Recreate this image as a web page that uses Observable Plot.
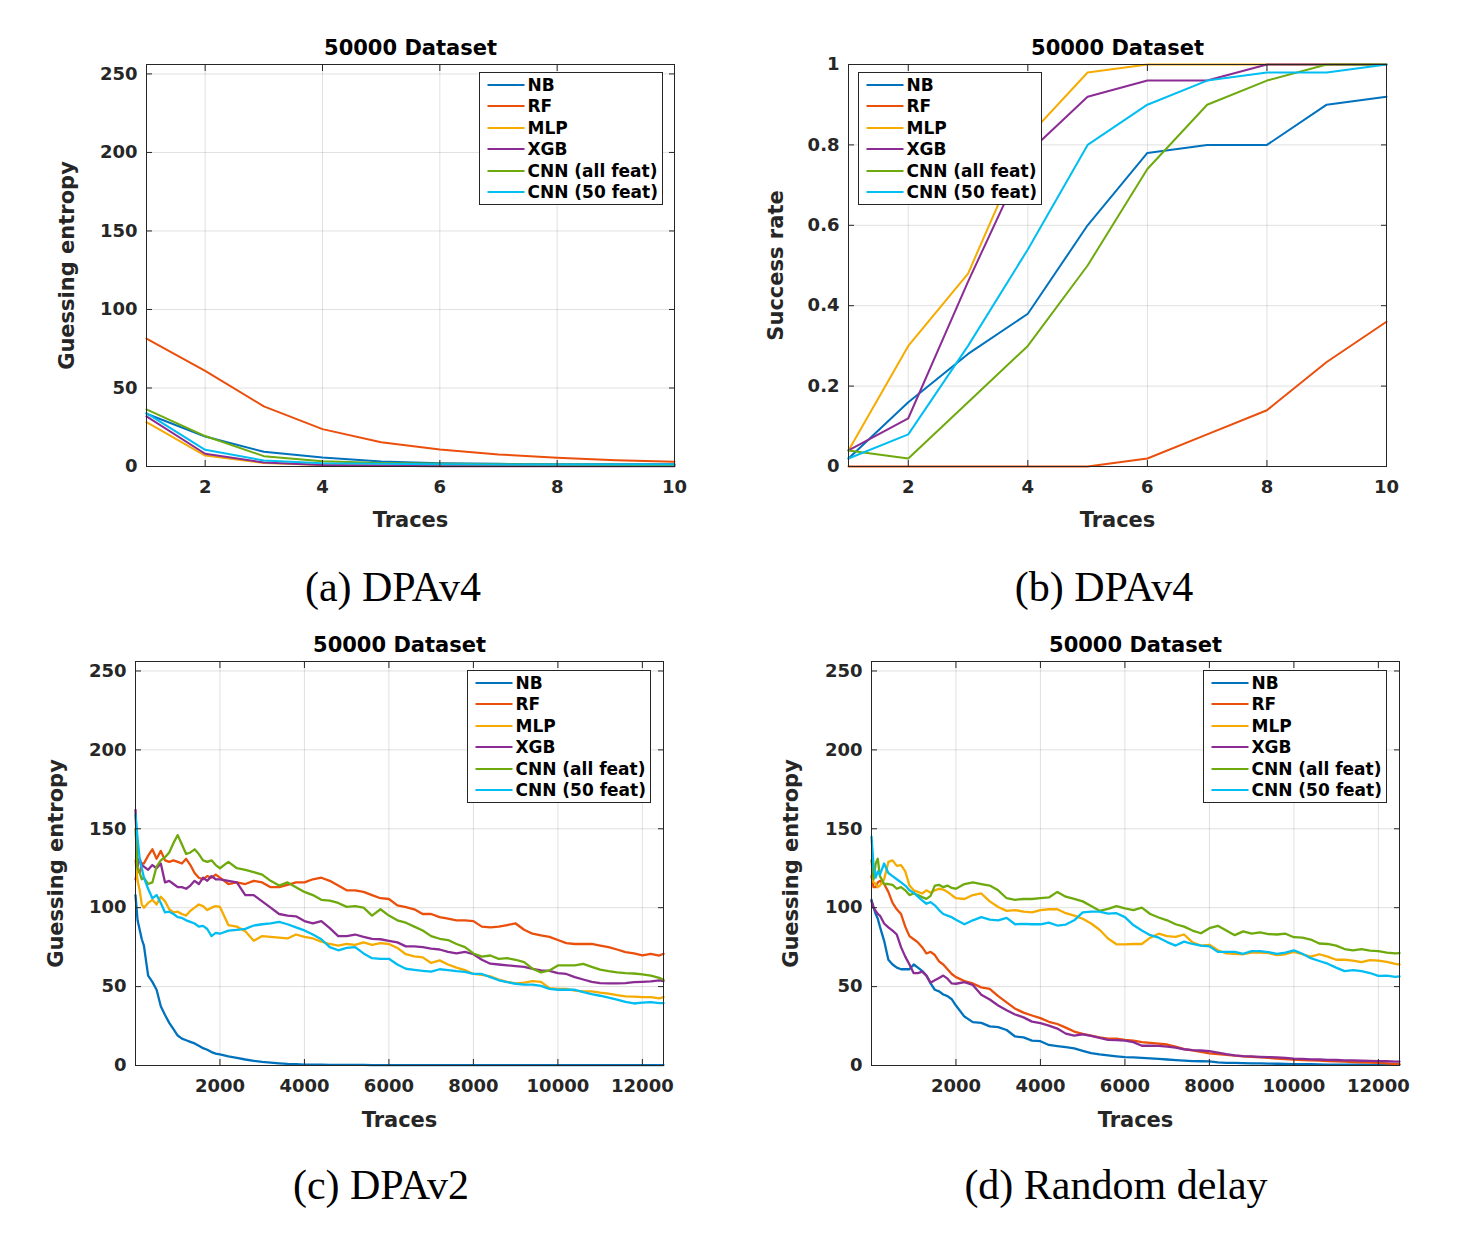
<!DOCTYPE html>
<html>
<head>
<meta charset="utf-8">
<script src="https://cdn.jsdelivr.net/npm/d3@7"></script>
<script src="https://cdn.jsdelivr.net/npm/@observablehq/plot@0.6"></script>
<style>
  html, body { margin: 0; padding: 0; background: #ffffff; }
  #root { position: relative; width: 1460px; height: 1242px; background: #ffffff; overflow: hidden; }
  .legend { position: absolute; background: #ffffff; border: 1px solid #262626; box-sizing: border-box;
            font-family: "DejaVu Sans", sans-serif; font-weight: bold; font-size: 17px; color: #000; }
  .lrow { position: absolute; left: 6.5px; height: 20px; line-height: 20px; white-space: nowrap; display: flex; align-items: center; }
  .lrow svg { display: block; }
  .lrow span { margin-left: 3px; }
</style>
</head>
<body>
<div id="root"></div>
<script>
// ---------- categories & styling ----------
const methods = ["NB", "RF", "MLP", "XGB", "CNN (all feat)", "CNN (50 feat)"];
const colors = ["#0072BD", "#EA4F0C", "#F5AB00", "#8B2C94", "#6EAA0D", "#00BDF2"];
const panelTitle = "50000 Dataset";
const captions = ["(a) DPAv4", "(b) DPAv4", "(c) DPAv2", "(d) Random delay"];
const xLabel = "Traces";
const yLabelGE = "Guessing entropy";
const yLabelSR = "Success rate";

// ---------- tick values ----------
const xTicksSmall = [2, 4, 6, 8, 10];
const xTicksLarge = [2000, 4000, 6000, 8000, 10000, 12000];
const yTicksGE = [0, 50, 100, 150, 200, 250];
const yTicksSR = [0, 0.2, 0.4, 0.6, 0.8, 1];

// ---------- (a) DPAv4 guessing entropy ----------
const tracesA = [1, 2, 3, 4, 5, 6, 7, 8, 9, 10];
const geA_NB  = [33.6, 19.1, 9.4, 5.7, 3.2, 2.1, 1.7, 1.5, 1.5, 1.5];
const geA_RF  = [81.5, 60.9, 38.3, 23.8, 15.5, 10.9, 7.7, 5.5, 4.0, 3.0];
const geA_MLP = [28.3, 7.0, 2.3, 1.0, 0.8, 0.7, 0.7, 0.6, 0.6, 0.6];
const geA_XGB = [31.9, 8.1, 2.6, 0.9, 0.4, 0.2, 0.2, 0.2, 0.2, 0.2];
const geA_CNNall = [36.4, 19.4, 6.6, 3.4, 2.3, 1.7, 1.4, 1.2, 1.1, 1.0];
const geA_CNN50  = [34.0, 10.6, 3.8, 2.1, 1.7, 1.5, 1.3, 1.2, 1.2, 1.2];

// ---------- (b) DPAv4 success rate ----------
const srB_NB  = [0.02, 0.16, 0.28, 0.38, 0.60, 0.78, 0.80, 0.80, 0.90, 0.92];
const srB_RF  = [0, 0, 0, 0, 0, 0.02, 0.08, 0.14, 0.26, 0.36];
const srB_MLP = [0.04, 0.30, 0.48, 0.82, 0.98, 1, 1, 1, 1, 1];
const srB_XGB = [0.04, 0.12, 0.46, 0.78, 0.92, 0.96, 0.96, 1, 1, 1];
const srB_CNNall = [0.04, 0.02, 0.16, 0.30, 0.50, 0.74, 0.90, 0.96, 1, 1];
const srB_CNN50  = [0.02, 0.08, 0.30, 0.54, 0.80, 0.90, 0.96, 0.98, 0.98, 1];

// ---------- (c),(d) trace positions ----------
const tracesCD = [1, 50, 100, 150, 200, 300, 400, 500, 600, 700, 800, 900, 1000, 1100, 1200, 1300, 1400, 1500, 1600, 1700, 1800, 1900, 2000,
  2200, 2400, 2600, 2800, 3000, 3200, 3400, 3600, 3800, 4000, 4200, 4400, 4600, 4800, 5000, 5200, 5400, 5600, 5800, 6000, 6200,
  6400, 6600, 6800, 7000, 7200, 7400, 7600, 7800, 8000, 8200, 8400, 8600, 8800, 9000, 9200, 9400, 9600, 9800, 10000, 10200,
  10400, 10600, 10800, 11000, 11200, 11400, 11600, 11800, 12000, 12200, 12400, 12500];

// ---------- (c) DPAv2 guessing entropy ----------
const geC_NB = [108, 92, 86, 80, 76, 57, 53, 48, 37.5, 32, 27, 23, 19, 17, 16, 15, 14, 12.5, 11, 10, 8.5, 7.5, 7,
  5.8, 4.8, 3.8, 3.0, 2.3, 1.8, 1.4, 1.0, 0.8, 0.6, 0.5, 0.5, 0.4, 0.4, 0.4, 0.4, 0.4, 0.3, 0.3, 0.3, 0.3,
  0.3, 0.3, 0.3, 0.3, 0.3, 0.3, 0.3, 0.3, 0.3, 0.3, 0.3, 0.3, 0.3, 0.3, 0.3, 0.3, 0.3, 0.3, 0.3, 0.3,
  0.3, 0.3, 0.3, 0.3, 0.3, 0.3, 0.3, 0.3, 0.3, 0.3, 0.3, 0.3];
const geC_RF = [118, 124, 122, 128, 128, 133, 137, 131, 136, 130, 129, 130, 129, 128, 131, 127, 122, 119, 118, 120, 119, 121, 119,
  115, 116, 115, 117, 116, 113, 113, 114.5, 116, 116, 118, 119, 117, 114, 111, 111, 110, 108, 106, 105.5, 101.5,
  100.4, 99, 96, 96, 94, 93, 92, 92, 91.5, 88, 87.5, 88, 89, 90, 86, 83.5, 82.4, 81.5, 79.5, 77.5,
  77, 77, 77, 76, 75, 73.5, 71.8, 71, 69.8, 70.8, 69.7, 70.8];
const geC_MLP = [130, 117, 111, 102, 100, 103, 105, 102, 107, 104, 99, 97, 97.5, 96, 95, 98, 100, 102, 101, 98.5, 100, 101, 100.5,
  89, 88, 85, 79, 82, 81.5, 81, 80.5, 83, 81.5, 80.5, 78.5, 77, 76, 77, 76.5, 78, 76.5, 77.5, 77, 74.5,
  70.5, 69.2, 68.5, 65, 66.6, 64, 62, 60.5, 58, 57.5, 56.5, 54.5, 53, 52, 52.5, 53.5, 53, 49, 48.6, 48.6,
  47.4, 47, 47, 46.2, 45.6, 44.6, 43.8, 43.7, 43.3, 43.3, 42.5, 43.3];
const geC_XGB = [162, 126, 131, 127, 126, 124, 127, 125, 128, 116, 117, 115, 113, 113, 112, 114, 117, 115, 119, 117, 120, 118, 118,
  117, 116, 108, 108, 104, 100, 96, 95, 94.5, 91.5, 90, 91.5, 87, 82, 82, 83, 81.5, 80.3, 80, 79, 78,
  75.5, 75.5, 75, 74, 73.5, 72, 71, 72, 70.5, 67, 64.5, 64, 63.5, 63, 62.5, 61.3, 60.2, 60, 58.5, 58,
  56, 54.5, 53, 52.2, 52, 52, 52.2, 52.8, 53, 53.3, 53.9, 53.5];
const geC_CNNall = [150, 125, 122, 118, 119, 115, 116, 126, 130, 132, 135, 141, 146, 140, 134, 135, 137, 134, 130, 129, 130, 127, 125,
  129, 125, 124, 122.5, 121, 117, 114, 116, 113, 110, 108, 105, 104.5, 103, 100.5, 101, 100, 95, 99, 95, 92,
  90.5, 88, 85.5, 82, 80.3, 79.5, 77, 75, 71, 69, 69.7, 67.6, 68, 67, 65.5, 61.3, 59, 60.2, 63.4, 63.4,
  63.4, 64.4, 62.5, 60.8, 59.8, 59, 58.5, 58.3, 57.7, 57, 55.5, 54.3];
const geC_CNN50 = [159, 144, 131, 125, 119, 112, 106, 108, 103, 97, 97.5, 96, 94, 93.5, 92, 91, 90, 88, 88.5, 86.5, 82, 84, 83.5,
  85.5, 86, 86.6, 88.7, 89.5, 90, 91, 89.5, 87.5, 85.6, 83, 80, 75, 73, 74.5, 75, 71, 68, 67.6, 67.6, 64,
  61.3, 60.6, 60, 59.5, 61, 60.5, 59.8, 59.3, 58.1, 58, 56, 54, 52.8, 51.8, 51.3, 51.3, 50.5, 48.6, 48, 48,
  48, 46.5, 45.2, 44.2, 43, 41.8, 40.3, 39.3, 39.8, 40.1, 39.5, 39.5];

// ---------- (d) Random delay guessing entropy ----------
const geD_NB = [105, 100, 96, 93, 88, 79, 67, 64, 62, 61, 61, 61, 64, 62, 60, 57, 52, 48, 47, 45, 44, 42, 38,
  31, 27.5, 27, 24.8, 24.3, 22.5, 18.4, 17.8, 15.8, 15.4, 13, 12.3, 11.6, 10.8, 9.3, 7.8, 7, 6.4, 5.8, 5.3, 5.2,
  4.8, 4.5, 4.2, 3.8, 3.4, 3.1, 2.8, 2.7, 2.6, 2.0, 1.7, 1.6, 1.5, 1.4, 1.3, 1.2, 1.1, 1.0, 0.9, 0.8,
  0.8, 0.7, 0.6, 0.6, 0.5, 0.5, 0.5, 0.4, 0.4, 0.4, 0.4, 0.4];
const geD_RF = [120, 113, 113, 116, 117, 115, 110, 103, 99, 96, 88, 82, 80, 78, 75, 71, 72, 70, 66, 64, 61, 58, 56,
  53.5, 52, 49.5, 48.5, 44, 40, 36, 33.5, 31.7, 30, 27.7, 26.3, 24, 21.5, 20, 19, 17.8, 17, 17, 16.3, 15.8,
  14.8, 14.3, 13.9, 13.3, 12, 10.4, 9.6, 8.6, 7.7, 7.2, 6.8, 6.2, 5.8, 5.4, 5.1, 4.8, 4.4, 4.1, 3.8, 3.5,
  3.3, 3.1, 2.8, 2.6, 2.4, 2.2, 2.0, 1.8, 1.6, 1.3, 0.9, 0.8];
const geD_MLP = [120, 116, 115, 113, 114, 118, 129, 130, 126.5, 127, 123, 114, 111, 110, 109, 111, 109.5, 111, 112, 111.5, 110, 108, 106,
  105.5, 108, 109, 104, 100.4, 98, 98.5, 97.5, 97, 98.5, 99, 99, 96.5, 95, 93, 90, 86, 80.5, 76.8, 76.7, 77,
  77, 81, 83.5, 82, 81.5, 83, 78, 76, 76.5, 73, 71, 70.8, 70.5, 71.5, 71.6, 71.2, 70, 70.5, 72, 70.5,
  69, 70.5, 69, 67, 67, 66.5, 65.5, 66.8, 66.5, 65.7, 64.4, 64];
const geD_XGB = [104, 100, 98, 96, 95, 90, 87.5, 85.5, 83, 75, 69, 64, 58.5, 58.5, 59.5, 57, 52.5, 54, 55.5, 57, 55, 52, 51.8,
  52.8, 51, 44.8, 41.8, 38, 35, 32.3, 30.5, 27.8, 26.8, 25.3, 23.4, 20.2, 19, 19.8, 18.7, 17.5, 16.3, 16.1, 15.7, 14.8,
  12.5, 12.6, 12.4, 12, 11.3, 10.3, 9.8, 9.5, 9.1, 8.2, 7.2, 6.4, 6.0, 5.8, 5.5, 5.3, 5.1, 4.8, 4.4, 4.2,
  3.9, 3.8, 3.6, 3.5, 3.3, 3.2, 3.0, 2.9, 2.8, 2.7, 2.5, 2.5];
const geD_CNNall = [130, 118, 128, 131, 120, 115, 115, 114.5, 112, 113, 111, 108, 109, 108, 106.7, 105.6, 107.5, 114, 114.5, 113, 114, 112.5, 112,
  115, 116, 115, 114, 111, 106, 105, 105.5, 105.5, 106, 106.5, 110, 107, 105.6, 104, 101, 98, 99.3, 101, 99.5, 98.5,
  100, 96, 93.8, 92, 89.5, 88, 85.5, 83.8, 87, 88.5, 85.5, 82.6, 85, 83.5, 84.3, 83.3, 83, 83.5, 81.3, 81,
  79.8, 77.3, 77, 76, 73.8, 73, 73.8, 72.8, 72.5, 71.5, 71, 71.2];
const geD_CNN50 = [145, 126, 119, 123, 121, 128, 122, 120, 118, 116, 114, 111, 109.5, 107, 104.6, 102.5, 103.5, 101.5, 98.5, 96, 95, 94, 92.3,
  89.5, 92, 94, 92.5, 92, 93.5, 89.5, 89.8, 89.5, 89.5, 90.5, 88.7, 89.3, 92, 97, 97.5, 97.5, 96.2, 96.5, 94, 89,
  85.6, 82.6, 81, 78.2, 76, 78.5, 77, 76, 75.5, 72, 72, 72, 70.8, 72.5, 72.5, 71.8, 70.8, 71.5, 73, 70.8,
  68, 66.2, 64.5, 62, 59.8, 60.5, 59.8, 58.6, 56.8, 57, 56.2, 56.5];

// ---------- drawing ----------
const root = document.getElementById("root");
const M = {l: 110, r: 20, t: 40, b: 80};

function toRows(traces, seriesList) {
  const rows = [];
  seriesList.forEach((vals, i) => vals.forEach((v, j) => rows.push({t: traces[j], v, method: methods[i]})));
  return rows;
}

function panel(cfg) {
  const rows = toRows(cfg.traces, cfg.series);
  const grid = {stroke: "#000", strokeOpacity: 0.12, strokeWidth: 1};
  const tickStyle = {stroke: "#262626", fill: "#262626", fontSize: 18, fontWeight: "bold"};
  const lbl = {fontSize: 21, fontWeight: "bold", textAnchor: "middle", lineAnchor: "middle"};
  const chart = Plot.plot({
    width: cfg.fw + M.l + M.r,
    height: cfg.fh + M.t + M.b,
    marginLeft: M.l, marginRight: M.r, marginTop: M.t, marginBottom: M.b,
    x: {domain: cfg.xDomain},
    y: {domain: cfg.yDomain},
    color: {domain: methods, range: colors},
    style: {fontFamily: "'DejaVu Sans', sans-serif", fontWeight: "bold", fontSize: "18px", color: "#262626", background: "transparent", overflow: "visible"},
    marks: [
      Plot.gridX({ticks: cfg.xTicks, ...grid}),
      Plot.gridY({ticks: cfg.yTicks, ...grid}),
      Plot.line(rows, {x: "t", y: "v", z: "method", stroke: "method", strokeWidth: cfg.lw, strokeLinejoin: "round"}),
      Plot.frame({stroke: "#262626", strokeWidth: 1}),
      Plot.axisX({ticks: cfg.xTicks, anchor: "bottom", tickSize: -6, tickPadding: 20, label: null, tickFormat: d => String(d), ...tickStyle}),
      Plot.axisX({ticks: cfg.xTicks, anchor: "top", tickSize: -6, label: null, tickFormat: () => "", ...tickStyle}),
      Plot.axisY({ticks: cfg.yTicks, anchor: "left", tickSize: -6, tickPadding: 15, label: null, tickFormat: d => String(d), ...tickStyle}),
      Plot.axisY({ticks: cfg.yTicks, anchor: "right", tickSize: -6, label: null, tickFormat: () => "", ...tickStyle}),
      Plot.text([panelTitle], {text: d => d, frameAnchor: "top", dy: -16, fill: "#000", ...lbl}),
      Plot.text([xLabel], {text: d => d, frameAnchor: "bottom", dy: cfg.xLabelDy, fill: "#262626", ...lbl}),
      Plot.text([cfg.yLabel], {text: d => d, frameAnchor: "left", dx: cfg.yLabelDx, rotate: -90, fill: "#262626", ...lbl})
    ]
  });
  chart.style.position = "absolute";
  chart.style.left = (cfg.left - M.l) + "px";
  chart.style.top = (cfg.top - M.t) + "px";
  chart.style.maxWidth = "none";
  root.append(chart);

  // legend box
  const box = document.createElement("div");
  box.className = "legend";
  Object.assign(box.style, {left: cfg.legend[0] + "px", top: cfg.legend[1] + "px", width: "184px", height: "133px"});
  methods.forEach((m, i) => {
    const row = document.createElement("div");
    row.className = "lrow";
    row.style.top = (11.7 + 21.5 * i - 10) + "px";
    row.innerHTML = `<svg width="38" height="20"><line x1="0.5" y1="10" x2="37.5" y2="10" stroke="${colors[i]}" stroke-width="2"/></svg><span>${m}</span>`;
    box.append(row);
  });
  root.append(box);
}

panel({left: 146, top: 64, fw: 528, fh: 402, xDomain: [1, 10], yDomain: [0, 256],
  xTicks: xTicksSmall, yTicks: yTicksGE, lw: 2,
  traces: tracesA, series: [geA_NB, geA_RF, geA_MLP, geA_XGB, geA_CNNall, geA_CNN50],
  yLabel: yLabelGE, yLabelDx: -79, xLabelDy: 54, legend: [479, 72]});

panel({left: 848, top: 64, fw: 538, fh: 402, xDomain: [1, 10], yDomain: [0, 1],
  xTicks: xTicksSmall, yTicks: yTicksSR, lw: 2,
  traces: tracesA, series: [srB_NB, srB_RF, srB_MLP, srB_XGB, srB_CNNall, srB_CNN50],
  yLabel: yLabelSR, yLabelDx: -72, xLabelDy: 54, legend: [858, 72]});

panel({left: 135, top: 661, fw: 528, fh: 404, xDomain: [1, 12500], yDomain: [0, 256],
  xTicks: xTicksLarge, yTicks: yTicksGE, lw: 2.3,
  traces: tracesCD, series: [geC_NB, geC_RF, geC_MLP, geC_XGB, geC_CNNall, geC_CNN50],
  yLabel: yLabelGE, yLabelDx: -79, xLabelDy: 55, legend: [467, 670]});

panel({left: 871, top: 661, fw: 528, fh: 404, xDomain: [1, 12500], yDomain: [0, 256],
  xTicks: xTicksLarge, yTicks: yTicksGE, lw: 2.3,
  traces: tracesCD, series: [geD_NB, geD_RF, geD_MLP, geD_XGB, geD_CNNall, geD_CNN50],
  yLabel: yLabelGE, yLabelDx: -80, xLabelDy: 55, legend: [1203, 670]});

// captions
const capPos = [[393, 601], [1104, 601], [381, 1199], [1116, 1199]];
const ns = "http://www.w3.org/2000/svg";
const capSvg = document.createElementNS(ns, "svg");
capSvg.setAttribute("width", 1460);
capSvg.setAttribute("height", 1242);
Object.assign(capSvg.style, {position: "absolute", left: "0px", top: "0px", pointerEvents: "none"});
captions.forEach((c, i) => {
  const t = document.createElementNS(ns, "text");
  t.setAttribute("x", capPos[i][0]);
  t.setAttribute("y", capPos[i][1]);
  t.setAttribute("text-anchor", "middle");
  t.setAttribute("font-family", "'Liberation Serif', serif");
  t.setAttribute("font-size", "42");
  t.setAttribute("fill", "#000");
  t.textContent = c;
  capSvg.append(t);
});
root.append(capSvg);
</script>
</body>
</html>
